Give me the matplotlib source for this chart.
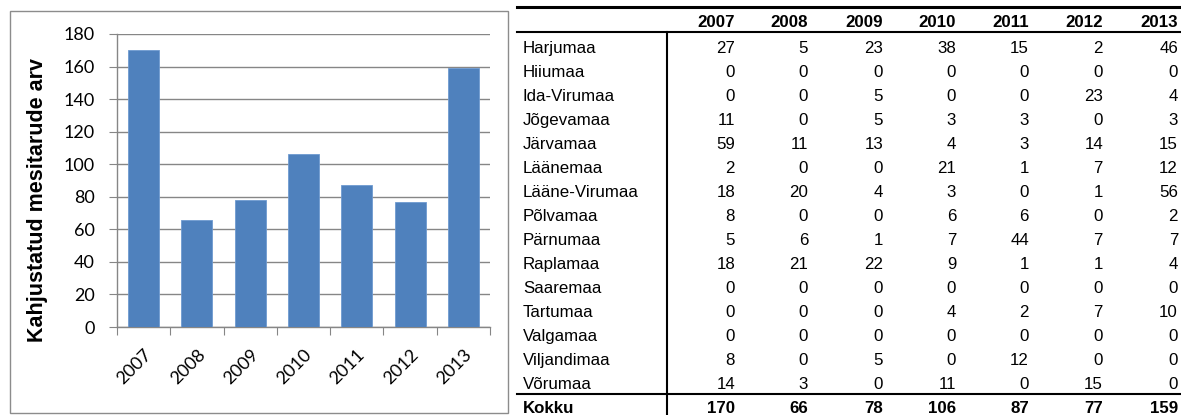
import matplotlib
matplotlib.use("Agg")
import matplotlib.pyplot as plt
from matplotlib.lines import Line2D
from matplotlib.patches import Rectangle
from matplotlib.transforms import ScaledTranslation

years = ["2007", "2008", "2009", "2010", "2011", "2012", "2013"]
totals = [170, 66, 78, 106, 87, 77, 159]
counties = ["Harjumaa", "Hiiumaa", "Ida-Virumaa", "Jõgevamaa", "Järvamaa", "Läänemaa",
            "Lääne-Virumaa", "Põlvamaa", "Pärnumaa", "Raplamaa", "Saaremaa", "Tartumaa",
            "Valgamaa", "Viljandimaa", "Võrumaa"]
county_values = [
    [27, 5, 23, 38, 15, 2, 46],
    [0, 0, 0, 0, 0, 0, 0],
    [0, 0, 5, 0, 0, 23, 4],
    [11, 0, 5, 3, 3, 0, 3],
    [59, 11, 13, 4, 3, 14, 15],
    [2, 0, 0, 21, 1, 7, 12],
    [18, 20, 4, 3, 0, 1, 56],
    [8, 0, 0, 6, 6, 0, 2],
    [5, 6, 1, 7, 44, 7, 7],
    [18, 21, 22, 9, 1, 1, 4],
    [0, 0, 0, 0, 0, 0, 0],
    [0, 0, 0, 4, 2, 7, 10],
    [0, 0, 0, 0, 0, 0, 0],
    [8, 0, 5, 0, 12, 0, 0],
    [14, 3, 0, 11, 0, 15, 0],
]
total_label = "Kokku"
ylabel = "Kahjustatud mesitarude arv"
yticks = list(range(0, 181, 20))

W, H = 1181, 415
fig = plt.figure(figsize=(W / 100, H / 100), dpi=100)

def fx(x):
    return x / W

def fy(y):
    return 1 - y / H

# outer chart box
fig.patches.append(Rectangle((fx(10), fy(413)), fx(498), 402 / H, transform=fig.transFigure,
                             fill=False, edgecolor="#8c8c8c", linewidth=1.0))

ax = fig.add_axes([fx(117), fy(327), fx(490) - fx(117), fy(34) - fy(327)])
x = list(range(len(years)))
ax.bar(x, totals, width=0.58, color="#4F81BD", edgecolor="#6f9ad0", linewidth=0.6, zorder=3)
ax.set_xlim(-0.5, len(years) - 0.5)
ax.set_ylim(0, 180)
ax.set_yticks(yticks)
ax.yaxis.grid(True, color="#868686", linewidth=1.0, zorder=0)
for s in ["top", "right"]:
    ax.spines[s].set_visible(False)
for s in ["left", "bottom"]:
    ax.spines[s].set_color("#868686")
    ax.spines[s].set_linewidth(1.0)
ax.set_xticks([i - 0.5 for i in range(len(years) + 1)])
ax.set_xticklabels([])
ax.set_xticks(x, minor=True)
ax.set_xticklabels(years, minor=True, rotation=45, ha="right", rotation_mode="anchor",
                   fontsize=13, family="Lato")
off = ScaledTranslation(-5 / 100, -2 / 100, fig.dpi_scale_trans)
for lab in ax.get_xticklabels(minor=True):
    lab.set_transform(lab.get_transform() + off)
ax.tick_params(axis="x", which="major", length=5.8, color="#868686", direction="out")
ax.tick_params(axis="x", which="minor", length=0, pad=14)
ax.tick_params(axis="y", length=5.8, color="#868686", pad=10)
for lab in ax.get_yticklabels():
    lab.set_fontsize(13)
    lab.set_family("Lato")

fig.text(fx(38), fy(200), ylabel, rotation=90, ha="center", va="center",
         fontsize=15.5, fontweight="bold", family="Liberation Sans")

# table
tfont = dict(family="Liberation Sans", fontsize=12.2, color="black")
col_right = [735, 808, 883, 956, 1029, 1103, 1178]
fig.add_artist(Line2D([fx(517), fx(1181)], [fy(7), fy(7)], color="black", lw=2.2))
fig.add_artist(Line2D([fx(517), fx(1181)], [fy(32), fy(32)], color="black", lw=1.5))
fig.add_artist(Line2D([fx(517), fx(1181)], [fy(394), fy(394)], color="black", lw=1.5))
fig.add_artist(Line2D([fx(667), fx(667)], [fy(32), fy(415)], color="black", lw=1.5))

for j, yr in enumerate(years):
    fig.text(fx(col_right[j]), fy(27), yr, ha="right", va="baseline", fontweight="bold", **tfont)

step = 24.0
for i, (name, vals) in enumerate(zip(counties, county_values)):
    yb = 53 + step * i
    fig.text(fx(523), fy(yb), name, ha="left", va="baseline", **tfont)
    for j, v in enumerate(vals):
        fig.text(fx(col_right[j]), fy(yb), str(v), ha="right", va="baseline", **tfont)

yb = 53 + step * len(counties)
fig.text(fx(523), fy(yb), total_label, ha="left", va="baseline", fontweight="bold", **tfont)
for j, v in enumerate(totals):
    fig.text(fx(col_right[j]), fy(yb), str(v), ha="right", va="baseline", fontweight="bold", **tfont)

fig.savefig("out.png", dpi=100)
